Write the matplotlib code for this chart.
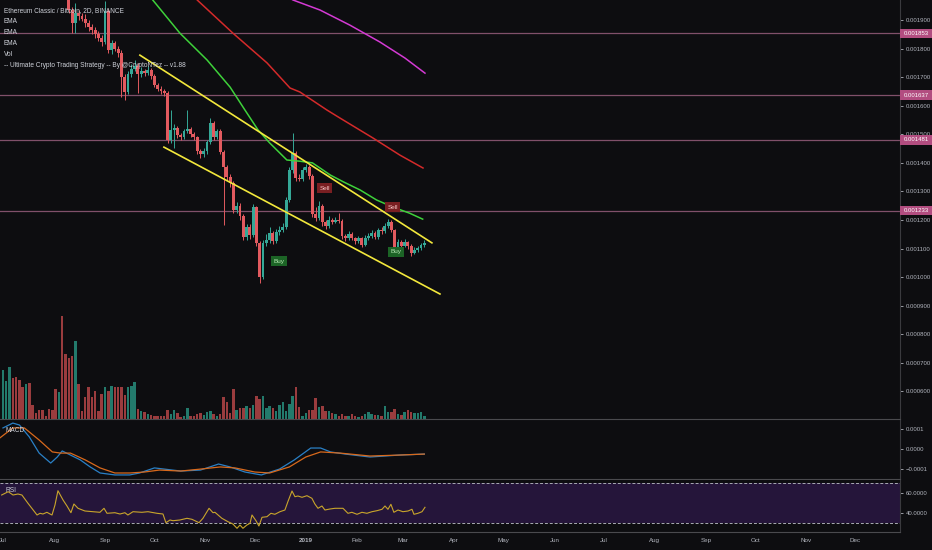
import numpy as np
import pandas as pd
import matplotlib
matplotlib.use("Agg")
import matplotlib.pyplot as plt
from matplotlib.patches import Rectangle
import matplotlib.transforms as mtransforms

plt.rcParams["font.family"] = ["Liberation Sans", "DejaVu Sans"]

# ---- data (prices in 1e-6 BTC, x in days since 2018-07-01, one candle = 2 days) ----
START = "2018-07-01"
BAR_DAYS = 2
FIRST_OPEN = 2450
CLOSE = [2480, 2520, 2560, 2540, 2500, 2460, 2400, 2420, 2380, 2330,
         2300, 2280, 2250, 2210, 2180, 2150, 2120, 2150, 2030, 2000,
         1935, 1890, 1925, 1915, 1905, 1890, 1875, 1865, 1850, 1837,
         1823, 1930, 1795, 1818, 1800, 1785, 1700, 1648, 1710, 1730,
         1740, 1710, 1722, 1714, 1725, 1705, 1672, 1660, 1650, 1645,
         1480, 1515, 1522, 1497, 1490, 1512, 1518, 1500, 1490, 1440,
         1430, 1440, 1473, 1540, 1490, 1512, 1438, 1385, 1350, 1330,
         1235, 1250, 1215, 1140, 1175, 1148, 1245, 1120, 1000, 1120,
         1130, 1155, 1125, 1158, 1165, 1175, 1270, 1375, 1435, 1347,
         1345, 1375, 1385, 1354, 1221, 1207, 1249, 1193, 1179, 1200,
         1193, 1200, 1196, 1144, 1137, 1151, 1137, 1126, 1137, 1112,
         1137, 1144, 1155, 1140, 1165, 1160, 1179, 1193, 1165, 1105,
         1123, 1109, 1123, 1109, 1084, 1095, 1102, 1112, 1120]
HIGH = [2510, 2545, 2590, 2580, 2555, 2515, 2470, 2445, 2430, 2390,
        2345, 2320, 2295, 2265, 2225, 2195, 2170, 2165, 2160, 2045,
        2010, 1945, 1960, 1935, 1925, 1920, 1900, 1885, 1875, 1860,
        1848, 1965, 1940, 1830, 1825, 1810, 1795, 1712, 1720, 1745,
        1760, 1748, 1735, 1730, 1738, 1732, 1712, 1680, 1668, 1658,
        1652, 1585, 1535, 1530, 1505, 1520, 1585, 1525, 1508, 1495,
        1448, 1452, 1480, 1557, 1548, 1520, 1518, 1445, 1392, 1360,
        1338, 1262, 1258, 1222, 1185, 1185, 1255, 1250, 1128, 1130,
        1150, 1175, 1160, 1168, 1178, 1190, 1280, 1385, 1505, 1442,
        1360, 1385, 1395, 1392, 1360, 1245, 1265, 1255, 1200, 1215,
        1208, 1210, 1225, 1202, 1150, 1160, 1158, 1142, 1145, 1142,
        1148, 1155, 1165, 1160, 1172, 1175, 1190, 1205, 1200, 1170,
        1135, 1130, 1135, 1128, 1115, 1105, 1110, 1120, 1130]
LOW = [2430, 2465, 2505, 2520, 2480, 2440, 2380, 2385, 2360, 2310,
       2280, 2260, 2230, 2190, 2160, 2130, 2100, 2110, 2010, 1985,
       1925, 1855, 1855, 1900, 1895, 1875, 1860, 1850, 1838, 1825,
       1810, 1815, 1785, 1780, 1790, 1770, 1630, 1620, 1640, 1700,
       1720, 1645, 1700, 1705, 1708, 1695, 1665, 1650, 1640, 1635,
       1470, 1470, 1452, 1488, 1480, 1485, 1505, 1490, 1480, 1430,
       1418, 1420, 1432, 1465, 1480, 1482, 1430, 1182, 1340, 1315,
       1225, 1225, 1200, 1130, 1130, 1135, 1140, 1110, 980, 995,
       1110, 1120, 1115, 1118, 1148, 1158, 1168, 1262, 1365, 1335,
       1335, 1338, 1368, 1345, 1210, 1195, 1200, 1180, 1168, 1172,
       1185, 1188, 1188, 1135, 1128, 1130, 1130, 1115, 1120, 1105,
       1108, 1130, 1138, 1132, 1135, 1150, 1155, 1172, 1158, 1098,
       1100, 1100, 1104, 1100, 1075, 1080, 1088, 1096, 1105]
VOLUME = [147, 115, 155, 123, 125, 118, 95, 105, 107, 43,
          17, 28, 28, 10, 30, 28, 90, 80, 310, 195,
          183, 190, 233, 105, 23, 65, 95, 65, 83, 25,
          75, 97, 85, 100, 97, 97, 97, 73, 95, 100,
          112, 30, 25, 22, 15, 12, 10, 8, 10, 8,
          27, 15, 27, 18, 7, 10, 33, 10, 10, 15,
          17, 13, 20, 25, 15, 10, 15, 65, 52, 18,
          90, 28, 33, 33, 40, 33, 42, 68, 60, 68,
          32, 40, 33, 23, 42, 50, 25, 45, 70, 97,
          35, 10, 18, 27, 28, 62, 37, 40, 23, 23,
          18, 15, 10, 15, 10, 10, 15, 10, 7, 8,
          15, 20, 15, 12, 13, 8, 40, 20, 20, 29,
          15, 13, 20, 27, 22, 17, 17, 20, 10]

EMA_GREEN_DAY = [77, 91, 107.5, 124, 138, 147, 155, 162, 172.5, 180, 188, 199, 207, 217, 227, 237, 247, 255]
EMA_GREEN = [2068, 1970, 1854, 1760, 1665, 1585, 1515, 1470, 1410, 1406, 1400, 1357, 1333, 1305, 1270, 1245, 1224, 1203]
EMA_RED_DAY = [110.6, 118, 139.7, 160.4, 174.4, 180.4, 196.8, 204.7, 224.8, 241.2, 255.2]
EMA_RED = [2040, 1970, 1854, 1750, 1662, 1648, 1585, 1557, 1487, 1427, 1382]
EMA_MAGENTA_DAY = [171.3, 176.2, 192.6, 210.8, 229, 244.2, 256.4]
EMA_MAGENTA = [1987, 1970, 1935, 1882, 1823, 1767, 1714]

UPPER_TREND_DAY = [83.2, 260.6]
UPPER_TREND = [1777, 1120]
LOWER_TREND_DAY = [97.8, 265.5]
LOWER_TREND = [1455, 941]

LEVELS = [1853, 1637, 1481, 1233]
SIGNAL_TEXT = ["Sell", "Sell", "Buy", "Buy"]
SIGNAL_DAY = [195.6, 236.9, 167.7, 238.8]
SIGNAL_PRICE = [1312, 1245, 1056, 1088]

MACD_DAY = [0, 6, 10, 16, 22, 29, 33, 36, 41, 47, 53, 59, 68, 77, 83, 92, 98, 108, 120, 131, 138, 147,
            157, 168, 177, 187, 193, 199, 208, 223, 241, 256]
MACD = [1.08, 1.33, 1.23, 0.62, -0.21, -0.72, -0.41, -0.10, -0.31, -0.56, -0.92, -1.23, -1.33, -1.33,
        -1.23, -0.97, -1.03, -1.13, -1.08, -0.77, -0.92, -1.18, -1.33, -1.03, -0.56, 0.05, 0.05, -0.15,
        -0.26, -0.41, -0.31, -0.26]
SIGNAL_LINE_DAY = [-2, 6, 13, 22, 30, 35, 41, 50, 59, 68, 77, 86, 95, 108, 120, 132, 141, 153, 162, 174,
                   184, 193, 205, 223, 241, 256]
SIGNAL_LINE = [0.56, 1.08, 1.08, 0.46, -0.15, -0.21, -0.21, -0.56, -0.97, -1.23, -1.23, -1.18, -1.08,
               -1.13, -1.03, -0.92, -0.97, -1.18, -1.23, -0.92, -0.41, -0.15, -0.21, -0.36, -0.31, -0.26]

RSI_DAY = [-0.8, 3.2, 6.1, 9.1, 11.5, 15.2, 20.7, 22.5, 24.3, 26.7, 28.6, 29.8, 31.6, 33.4, 36.5, 38.9,
           41.3, 43.1, 45.6, 49.8, 54.7, 58.9, 61.4, 63.2, 68.0, 71.1, 74.1, 75.9, 79.0, 84.4, 88.1, 93.6,
           97.2, 99.0, 101.5, 103.3, 107.5, 111.8, 114.8, 116.6, 119.1, 121.5, 125.2, 127.6, 128.8, 133.0,
           136.7, 139.7, 142.2, 144.0, 145.8, 148.2, 150.1, 151.3, 153.7, 155.5, 157.4, 160.4, 162.8, 165.2,
           168.3, 171.3, 173.1, 175.6, 177.4, 179.2, 181.7, 184.7, 187.7, 189.5, 191.4, 193.8, 195.6, 198.7,
           201.7, 206.6, 209.6, 212.0, 215.1, 218.1, 221.1, 224.2, 227.2, 230.3, 232.1, 233.9, 235.7, 237.5,
           240.0, 243.0, 246.1, 248.5, 249.7, 252.1, 254.6, 256.4]
RSI = [58, 61.3, 58, 59, 58, 49.7, 38, 39.7, 39, 40.7, 39, 38, 48, 62.3, 53, 47,
       40.3, 49, 44.7, 42, 41.3, 40.7, 44.7, 39.7, 40.3, 39, 40.3, 38, 41.3, 40.7, 41.3, 39.7,
       39, 30.3, 33, 32.3, 33, 34.7, 33.7, 32.3, 30.3, 34.7, 44.7, 40.3, 40.7, 34.7,
       31.3, 29, 24.7, 28, 24.7, 28, 29.7, 38, 32.3, 27, 35.7, 36.3, 39.7, 38.7,
       41.3, 43, 51.3, 62, 56.3, 57, 55.7, 57.3, 54.7, 49, 44.7, 47, 43, 44,
       44.7, 44.7, 39.7, 40.7, 38.7, 40.7, 39.7, 41.3, 42.3, 43.7, 47, 43.7, 48.7, 40.7,
       43, 41.3, 42, 43.7, 38.7, 39.7, 41.3, 45.7]

MONTH_LABELS = ["Jul", "Aug", "Sep", "Oct", "Nov", "Dec", "2019", "Feb", "Mar",
                "Apr", "May", "Jun", "Jul", "Aug", "Sep", "Oct", "Nov", "Dec"]
LEGEND = ["Ethereum Classic / Bitcoin, 2D, BINANCE", "EMA", "EMA", "EMA", "Vol",
          "-- Ultimate Crypto Trading Strategy -- By @CryptoNTez -- v1.88"]

# ---- style ----
BG = "#0d0d10"
GRID = "#3a3a3e"
TXT = "#b2b5be"
UP, DOWN = "#35a897", "#e25a5f"
VUP, VDOWN = "#237a6c", "#9a3c3e"

close = np.array(CLOSE, float)
open_ = np.r_[FIRST_OPEN, close[:-1]]
day = np.arange(len(close)) * BAR_DAYS
up = close >= open_
col = np.where(up, UP, DOWN)

fig = plt.figure(figsize=(9.32, 5.5), dpi=100, facecolor=BG)
W = 900 / 932
rect_main = (0, 1 - 419 / 550, W, 419 / 550)
axv = fig.add_axes(rect_main, facecolor=BG, zorder=0)
ax = fig.add_axes(rect_main, facecolor="none", zorder=1)
axm = fig.add_axes((0, 1 - 479 / 550, W, 59 / 550), facecolor=BG)
axr = fig.add_axes((0, 1 - 532 / 550, W, 52 / 550), facecolor=BG)

XLIM = (-1.8, 545)
for a in (axv, ax, axm, axr):
    a.set_xlim(*XLIM)
    for s in a.spines.values():
        s.set_visible(False)
    a.tick_params(axis="x", bottom=False, labelbottom=False)

# volume overlay
axv.bar(day, VOLUME, width=1.5, color=np.where(up, VUP, VDOWN), linewidth=0)
axv.set_ylim(0, 1257)
axv.set_yticks([])

# candles
ax.set_ylim(503.5, 1970)
ax.vlines(day, LOW, HIGH, colors=col, lw=0.7, zorder=3)
body = np.maximum(np.abs(close - open_), 2)
ax.bar(day, body, bottom=np.minimum(open_, close), width=1.75, color=col, linewidth=0, zorder=4)

for lv in LEVELS:
    ax.axhline(lv, color="#80506a", lw=0.9, zorder=2)

ax.plot(EMA_GREEN_DAY, EMA_GREEN, color="#3ed13a", lw=1.1, zorder=5)
ax.plot(EMA_RED_DAY, EMA_RED, color="#d42a2a", lw=1.1, zorder=5)
ax.plot(EMA_MAGENTA_DAY, EMA_MAGENTA, color="#d43ad4", lw=1.1, zorder=5)
ax.plot(UPPER_TREND_DAY, UPPER_TREND, color="#f3e83c", lw=1.2, zorder=6)
ax.plot(LOWER_TREND_DAY, LOWER_TREND, color="#f3e83c", lw=1.2, zorder=6)

for t, d, p in zip(SIGNAL_TEXT, SIGNAL_DAY, SIGNAL_PRICE):
    fc, tc = ("#7a1f22", "#f4c4c4") if t == "Sell" else ("#1c6426", "#b7e6b4")
    ax.text(d, p, t, ha="center", va="center", fontsize=4.6, color=tc, zorder=7,
            bbox=dict(boxstyle="square,pad=0.35", fc=fc, ec="none"))

ax.yaxis.tick_right()
ax.set_yticks(np.arange(600, 2000, 100))
ax.set_yticklabels([f"{v / 1e6:.6f}" for v in np.arange(600, 2000, 100)])
ax.tick_params(axis="y", colors=TXT, labelsize=4.3, length=2.5, width=0.6, pad=1.5)
ax.spines["right"].set_visible(True)
ax.spines["right"].set_color(GRID)
ax.spines["bottom"].set_visible(True)
ax.spines["bottom"].set_color("#4a4a4e")

trans = mtransforms.blended_transform_factory(ax.transAxes, ax.transData)
for lv in LEVELS:
    ax.add_patch(Rectangle((1.0, lv - 17), 32 / 900, 34, transform=trans, clip_on=False,
                           fc="#b24d80", ec="none", zorder=8))
    ax.text(1.0 + 4 / 900, lv, f"{lv / 1e6:.6f}", transform=trans, fontsize=4.3, color="white",
            va="center", ha="left", zorder=9, clip_on=False)

for k, line in enumerate(LEGEND):
    fig.text(4 / 932, 1 - (10.7 + 11 * k) / 550, line, fontsize=4.7, color="#cfd2da", va="center")

# MACD pane
axm.plot(MACD_DAY, MACD, color="#2a80c6", lw=0.9)
axm.plot(SIGNAL_LINE_DAY, SIGNAL_LINE, color="#d8691c", lw=0.9)
axm.set_ylim(-1.538, 1.487)
axm.yaxis.tick_right()
axm.set_yticks([1, 0, -1])
axm.set_yticklabels(["0.0001", "0.0000", "\u22120.0001"])
axm.tick_params(axis="y", colors=TXT, labelsize=4.3, length=2.5, width=0.6, pad=1.5)
axm.spines["right"].set_visible(True)
axm.spines["right"].set_color(GRID)
axm.spines["bottom"].set_visible(True)
axm.spines["bottom"].set_color("#4a4a4e")
axm.text(5 / 900, 0.83, "MACD", transform=axm.transAxes, fontsize=4.7, color="#cfd2da", va="center")

# RSI pane
axr.axhspan(30, 70, color="#25153a", lw=0)
for lv in (70, 30):
    axr.axhline(lv, color="#a9abb3", lw=0.7, dashes=(3, 2))
axr.plot(RSI_DAY, RSI, color="#c9a52b", lw=0.8)
axr.set_ylim(21, 73)
axr.yaxis.tick_right()
axr.set_yticks([60, 40])
axr.set_yticklabels(["60.0000", "40.0000"])
axr.tick_params(axis="y", colors=TXT, labelsize=4.3, length=2.5, width=0.6, pad=1.5)
axr.spines["right"].set_visible(True)
axr.spines["right"].set_color(GRID)
axr.spines["bottom"].set_visible(True)
axr.spines["bottom"].set_color("#4a4a4e")
axr.text(5 / 900, 0.8, "RSI", transform=axr.transAxes, fontsize=4.7, color="#cfd2da", va="center")

months = pd.date_range(START, periods=len(MONTH_LABELS), freq="MS")
month_days = (months - pd.Timestamp(START)).days
axr.set_xticks(month_days)
axr.set_xticklabels(MONTH_LABELS)
axr.tick_params(axis="x", bottom=True, labelbottom=True, length=0, pad=4.5, colors=TXT, labelsize=4.5)
for lbl in axr.get_xticklabels():
    if lbl.get_text() == "2019":
        lbl.set_fontweight("bold")

fig.savefig("out.png", dpi=100, facecolor=BG)
